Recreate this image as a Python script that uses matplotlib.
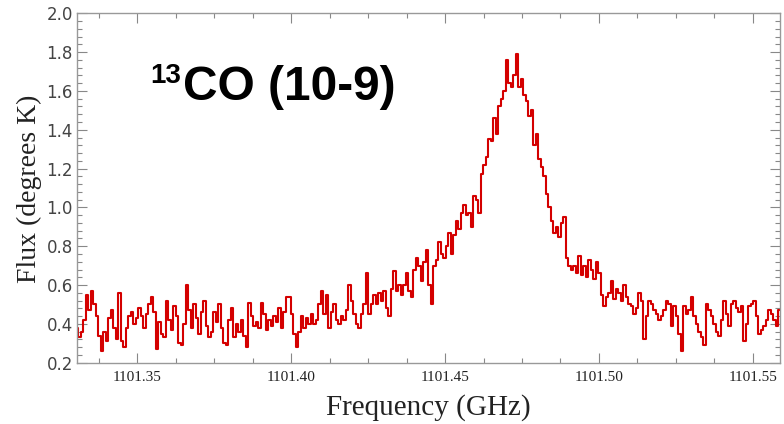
import matplotlib.pyplot as plt
import numpy as np
from matplotlib.ticker import MultipleLocator, FormatStrFormatter

# channel grid of the spectrometer
CHAN0 = 1101.3305      # GHz, first channel
CHAN_WIDTH = 0.000812  # GHz per channel

# antenna temperature per channel (K)
flux = [
    # baseline, low side
    0.38, 0.33, 0.36, 0.42, 0.55, 0.47, 0.57, 0.50, 0.44, 0.34,
    0.26, 0.36, 0.31, 0.43, 0.47, 0.38, 0.32, 0.56, 0.31, 0.28,
    0.38, 0.44, 0.46, 0.40, 0.43, 0.48, 0.44, 0.38, 0.45, 0.50,
    0.54, 0.46, 0.27, 0.41, 0.35, 0.33, 0.52, 0.42, 0.37, 0.49,
    0.44, 0.30, 0.29, 0.40, 0.60, 0.47, 0.38, 0.50, 0.43, 0.35,
    0.46, 0.52, 0.39, 0.33, 0.36, 0.46, 0.41, 0.50, 0.38, 0.30,
    0.29, 0.42, 0.48, 0.33, 0.40,
    # slow rise into the wing
    0.36, 0.42, 0.34, 0.28, 0.51, 0.44, 0.39, 0.41, 0.38, 0.51,
    0.45, 0.37, 0.42, 0.39, 0.44, 0.41, 0.48, 0.38, 0.46, 0.54,
    0.54, 0.45, 0.35, 0.28, 0.36, 0.44, 0.38, 0.43, 0.40, 0.45,
    0.40, 0.42, 0.50, 0.57, 0.45, 0.55, 0.38, 0.46, 0.50, 0.42,
    0.40, 0.44, 0.42, 0.47, 0.60, 0.52, 0.45, 0.40, 0.38, 0.45,
    0.50, 0.66, 0.45, 0.50, 0.55, 0.50, 0.56, 0.52, 0.57, 0.48,
    0.44, 0.58, 0.67, 0.57, 0.60,
    # line core
    0.55, 0.60, 0.66, 0.57, 0.54, 0.68, 0.74, 0.70, 0.62, 0.72,
    0.78, 0.60, 0.50, 0.70, 0.73, 0.82, 0.76, 0.74, 0.80, 0.87,
    0.76, 0.86, 0.93, 0.89, 0.97, 1.01, 0.96, 0.97, 0.90, 1.06,
    1.04, 0.97, 1.17, 1.22, 1.26, 1.35, 1.34, 1.46, 1.38, 1.52,
    1.56, 1.60, 1.76, 1.64, 1.62, 1.68, 1.79, 1.62, 1.66, 1.58,
    1.55, 1.47, 1.50, 1.32, 1.38, 1.25, 1.21, 1.16, 1.07, 1.00,
    0.93, 0.87, 0.90, 0.85,
    # high side wing and baseline
    0.92, 0.95, 0.74, 0.70, 0.68, 0.70, 0.66, 0.75, 0.65, 0.70,
    0.64, 0.73, 0.68, 0.63, 0.72, 0.66, 0.55, 0.49, 0.54, 0.56,
    0.62, 0.53, 0.58, 0.56, 0.52, 0.60, 0.54, 0.50, 0.49, 0.45,
    0.48, 0.56, 0.52, 0.32, 0.44, 0.52, 0.50, 0.47, 0.45, 0.42,
    0.44, 0.47, 0.52, 0.50, 0.39, 0.49, 0.44, 0.35, 0.26, 0.49,
    0.45, 0.47, 0.54, 0.44, 0.40, 0.36, 0.33, 0.29, 0.50, 0.47,
    0.44, 0.40, 0.36, 0.34, 0.42, 0.52, 0.45, 0.39, 0.50, 0.52,
    0.48, 0.46, 0.49, 0.31, 0.40, 0.49, 0.50, 0.52, 0.44, 0.35,
    0.37, 0.39, 0.42, 0.47, 0.45, 0.42, 0.39, 0.47, 0.40,
]

freq = CHAN0 + CHAN_WIDTH * np.arange(len(flux))

fig = plt.figure(figsize=(7.84, 4.24), dpi=100)
ax = fig.add_axes([0.0982, 0.1446, 0.8968, 0.824])

ax.plot(freq, flux, color='#d40000', lw=1.5, drawstyle='steps-mid')

ax.set_xlim(1101.3305, 1101.5588)
ax.set_ylim(0.2, 2.0)

ax.xaxis.set_major_locator(MultipleLocator(0.05))
ax.xaxis.set_minor_locator(MultipleLocator(0.0125))
ax.xaxis.set_major_formatter(FormatStrFormatter('%.2f'))
ax.yaxis.set_major_locator(MultipleLocator(0.2))
ax.yaxis.set_minor_locator(MultipleLocator(0.04))
ax.yaxis.set_major_formatter(FormatStrFormatter('%.1f'))

ax.tick_params(which='both', direction='in', top=True, right=True,
               color='#888888', width=0.8)
ax.tick_params(which='major', length=7)
ax.tick_params(which='minor', length=3.5)
ax.tick_params(axis='x', which='major', pad=6, labelsize=11, labelcolor='#222222')
ax.tick_params(axis='y', which='major', pad=3, labelsize=12, labelcolor='#444444')
for lab in ax.get_xticklabels():
    lab.set_family('Liberation Serif')
for lab in ax.get_yticklabels():
    lab.set_family('DejaVu Sans')

for sp in ax.spines.values():
    sp.set_color('#999999')
    sp.set_linewidth(1.0)

# axis titles
fig.text(0.546, 1 - 408 / 424, 'Frequency (GHz)', family='Liberation Serif',
         fontsize=21, ha='center', va='center', color='#222222')
fig.text(0.038, 1 - 189 / 424, 'Flux (degrees K)', family='Liberation Serif',
         fontsize=20, ha='center', va='center', rotation=90, color='#222222')

# line label
fig.text(150 / 784, 1 - 83 / 424, '13', family='Liberation Sans',
         fontweight='bold', fontsize=20, ha='left', va='baseline')
fig.text(183 / 784, 1 - 100 / 424, 'CO (10-9)', family='Liberation Sans',
         fontweight='bold', fontsize=34.5, ha='left', va='baseline')

fig.savefig('out.png', dpi=100, facecolor='white')
